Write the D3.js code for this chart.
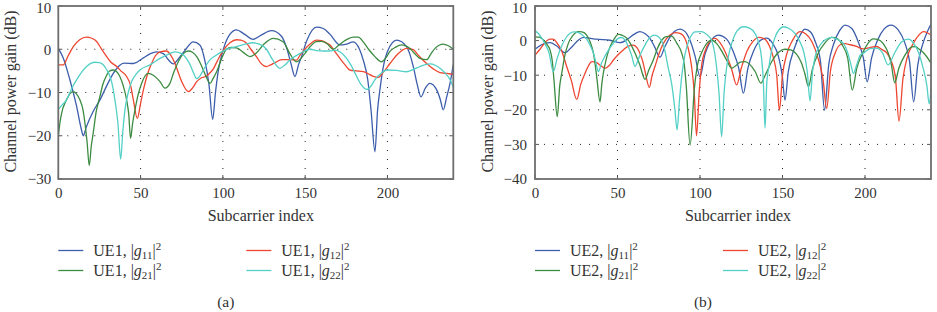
<!DOCTYPE html>
<html>
<head>
<meta charset="utf-8">
<script src="https://cdn.jsdelivr.net/npm/d3@7"></script>
<style>
  html, body { margin: 0; padding: 0; background: #fff; }
  svg, svg text { font-family: "Liberation Serif", "Times New Roman", "DejaVu Serif", serif; }
</style>
</head>
<body>
<div id="chart"></div>
<script>
// Axis ticks
const subcarrierTicks = [0, 50, 100, 150, 200];
const gainTicksA = [-30, -20, -10, 0, 10];
const gainTicksB = [-40, -30, -20, -10, 0, 10];

// Panel (a): UE1 channel gains [subcarrier, dB]
const ue1_g11 = [[0,0.2],[3,-2],[7,-7],[11,-13],[14,-18.5],[15.2,-20],[17,-18],[21,-14.5],[25.3,-11.7],[30,-8],[33.4,-5.6],[37,-3.8],[40,-3.2],[45.6,-3.3],[51.7,-2.0],[56,-1],[59.7,-0.6],[63.8,-1.0],[67,-2.5],[69.9,-3.4],[73,-2.2],[76.9,-0.3],[82,1.7],[86,1],[89,-2.5],[91.5,-8],[93.8,-16.2],[95.5,-10],[97.2,-5],[100.3,0],[104,3.3],[108.3,4.5],[113,3.5],[118.4,2.3],[123,3.2],[129.5,4.3],[135.6,3],[139,0],[141.5,-3.5],[143.8,-6.3],[146,-3.5],[147.8,-1.7],[151,2],[156.9,5.1],[161,4.8],[165,3.5],[171.1,1],[175,1.2],[179.2,1.7],[183,0],[185.3,-2.5],[188,-7],[190,-14],[192.4,-23.7],[194,-14],[195.4,-9.4],[197.5,-4],[200,-0.5],[205.6,2.1],[211.6,0.6],[215.7,-4],[218,-8],[220.4,-11],[223,-9],[225.8,-7.9],[229.9,-9.4],[232,-11.5],[233.9,-14],[236,-11],[238,-7.9],[240,-3.5]];
const ue1_g12 = [[0,-3.6],[3,-3.6],[6,-1.5],[9.1,0.6],[13,2.2],[17.2,2.8],[20,2.6],[23.3,1.8],[26,0.2],[29.4,-1.7],[32,-3],[35.5,-4],[38,-5],[41.5,-6.3],[44,-8.5],[45.6,-11.7],[48,-16],[50,-12.5],[51.7,-9.4],[54,-6],[56.7,-3.3],[59,-1.5],[61.8,-0.6],[65.8,-0.4],[68,-1.2],[70.9,-3.3],[73,-5.5],[75,-7.5],[79,-9.8],[81.5,-9],[84.1,-7.5],[87,-6.6],[90.1,-6.2],[92,-5.5],[94.1,-4.6],[96.5,-2.8],[99.2,-0.9],[104.3,1.5],[108.3,2.2],[111,2.1],[114.4,1.4],[117,0],[120.4,-1.7],[123,-3.2],[126.5,-4],[129,-3.6],[132.6,-2.9],[136,-2.4],[140.7,-2.4],[144.7,-2.5],[147,-1.3],[149.8,0],[153,1.2],[156.9,2.1],[160,2.0],[163,1.4],[165.1,1],[168,-0.5],[171.1,-2.1],[174,-3.5],[177.2,-4.8],[181,-5],[185.3,-5.2],[188,-5.6],[191,-6.2],[194.4,-6.5],[197.5,-5.3],[201.5,-3.3],[206,-1.2],[211.6,0.2],[215.7,-0.1],[219,-1.5],[223.8,-3.3],[228,-4.6],[231.9,-5.4],[236,-5.6],[240,-5.8]];
const ue1_g21 = [[0,-20.2],[1,-17],[2,-14.8],[5,-11.7],[7,-10.3],[9.1,-9.8],[11,-10.3],[13.1,-11.7],[15,-14],[16.2,-17.1],[17.5,-21.5],[18.8,-26.9],[20,-22.5],[21.2,-19.4],[23,-14.5],[25.3,-10.9],[27,-8.2],[29.4,-6],[31,-5.1],[33.4,-4.8],[35.5,-5.2],[37.4,-6.3],[39.5,-8.5],[41.5,-11.7],[42.8,-15],[43.9,-20.6],[45.2,-17],[46.6,-14],[48.5,-10.5],[50.6,-7.9],[52.5,-6.3],[54.7,-5.6],[57.7,-6],[61.8,-7.5],[64.8,-9],[67.8,-7.9],[70,-5.5],[72.9,-2.9],[76,-1],[79,-0.4],[81.5,-0.7],[84.1,-1.7],[86,-3],[88.1,-4.8],[90,-6.5],[92.2,-7.9],[94,-6.8],[96.2,-5.2],[99,-2.4],[102.2,0],[105,0.4],[108.3,0.3],[112,-0.6],[116.4,-1.7],[120,-1.0],[125,1.2],[130.6,2.5],[136.6,1.75],[140.7,-1],[144.7,-2.9],[149.8,-1],[153,0.6],[156.9,1.75],[160,1.8],[163,1.4],[167.1,0],[170,0.8],[173.1,1.75],[176,2.4],[179.2,2.8],[182.3,2.8],[185.3,1.7],[188.5,0],[192.4,-1.7],[196.4,-2.9],[199,-2],[201.5,-0.5],[205,0.5],[208.6,1],[211,0.8],[213.7,0.2],[216.5,-1],[219.7,-2.1],[223.8,-2.4],[226.5,-1],[228.9,0.2],[233.9,1.2],[237,0.8],[240,0]];
const ue1_g22 = [[0,-13.9],[2.5,-12.8],[5,-11.7],[8,-9.2],[11.1,-7.1],[14,-5.4],[17.2,-4],[20,-3.2],[22.3,-3.0],[25,-3.1],[27.3,-3.6],[29.5,-4.8],[31.4,-6.3],[33,-8.5],[34.4,-11.7],[36.2,-17],[37.9,-25.4],[39.2,-19],[40.5,-14],[42.5,-10],[44.5,-7.5],[47,-5.9],[49.6,-4.8],[55.7,-3.6],[61.8,-2.1],[67.8,-1.0],[70.9,-0.6],[75,-1],[78,-2.2],[80,-3.5],[82,-5.3],[84.1,-6.8],[86,-6.2],[88.1,-4.8],[92,-2.5],[95,-1.6],[99.2,-0.6],[103,0.1],[108.3,0.6],[113,1.1],[118.4,1.5],[122,1.2],[126.5,0],[130,-2.3],[134.6,-4.4],[137.5,-3.7],[140.7,-2.5],[146.8,-1.0],[152.9,0],[157,-0.3],[161,-0.4],[165,-0.4],[168.1,-0.2],[171.5,-0.7],[175.2,-2.1],[178,-3.8],[181.3,-6.3],[184,-8.2],[187.4,-9.3],[190,-8.5],[192.4,-7],[196,-5.6],[199.5,-4.8],[205.6,-4.9],[211.6,-5.2],[215.5,-4.7],[219.7,-4],[225.8,-3.4],[229,-3.7],[231.9,-4.4],[235,-5.5],[238,-7],[240,-8.8]];

// Panel (b): UE2 channel gains [subcarrier, dB]
const ue2_g11 = [[0,-2.5],[4,-1.2],[9.1,-0.6],[13,-1.5],[18.2,-3.5],[22,-2],[26,0],[29.3,0.95],[33,0.7],[37.4,0.4],[45.5,0.1],[51.5,-0.6],[56.6,0.6],[60,1.8],[63.6,2.6],[67,1.9],[69.7,0.6],[72.5,-1.8],[75.8,-4.8],[78.5,-2],[81.8,1],[84.5,2.6],[87.9,3.3],[91,2.6],[94,0],[97,-4.5],[100,-10.4],[103,-4],[106,-0.5],[111.1,1.6],[116,0.5],[120,-3],[123.5,-8],[126.3,-15.2],[129,-8],[132.5,-3],[136.5,0],[140.4,0.7],[144,-0.8],[147.5,-4.5],[149.8,-10],[151.5,-17.2],[153.5,-9],[157,-2.5],[160.6,1.5],[163.6,3.3],[167,2.5],[170,-0.5],[173,-6],[175.5,-20.1],[178,-7],[181,-1],[184.5,2.8],[187.9,4.5],[192,3.5],[196,-0.5],[199,-5],[201.3,-11.9],[204,-5],[207.5,0],[211.5,3.3],[215.7,4.5],[220,3.2],[224,-0.5],[227,-6],[229.5,-17.7],[232,-7],[235,-1],[238,2.8],[240,4.8]];
const ue2_g12 = [[0,-4.2],[3,-2.5],[6,-0.6],[9.1,0.4],[11,0.4],[13.5,-0.8],[16,-2.8],[19.2,-7.5],[22,-11.5],[25.3,-17],[27.8,-12.5],[30.3,-9.5],[32.5,-7.2],[34.3,-6.1],[37,-6.3],[39.4,-7.1],[42.4,-8.0],[45,-7.2],[47.5,-5.6],[50.5,-4],[53.5,-2.7],[56.5,-1.6],[59.6,-1.3],[62,-2.2],[63.6,-3.7],[65.3,-6],[66.7,-8.9],[69.3,-13.5],[71,-10],[72.7,-7.5],[75,-4],[77.8,-0.8],[81.8,1.6],[85,2.3],[87.9,2.1],[90.9,0.6],[93,-2.5],[94.9,-7.5],[96.5,-15],[97.9,-27.5],[99.5,-15],[100.9,-7.5],[103.5,-2.5],[106.9,0.2],[109.1,0.65],[112,-0.5],[115.5,-3.5],[119,-8],[122.2,-12.8],[125,-8],[128.5,-3],[132,-0.3],[135.4,0.95],[139,0.5],[142,-1.5],[144.5,-5],[146.5,-10],[148.1,-20.1],[150,-10],[152.5,-4],[156,0],[160.6,2.6],[164,2],[168,-0.5],[171.5,-5],[174.5,-11],[176.8,-19.6],[179,-9],[182,-3.5],[185,-1.2],[188,-0.9],[191,-1.2],[194.9,-1.7],[199,-2.4],[203,-2],[207.1,-1.7],[210,-2.5],[213.1,-3.5],[216,-6],[218.5,-11],[220.6,-23.3],[223,-11],[225.5,-5],[229.3,-0.8],[232.5,1.5],[235.4,2.6],[238,2.2],[240,1.6]];
const ue2_g21 = [[0,1.1],[2.5,1],[5.1,0.2],[7.5,-1.3],[9.1,-2.7],[10.5,-6],[11.5,-11.4],[13.5,-22],[15,-13],[16.2,-9.5],[18,-4.5],[20.2,-0.8],[23,1.5],[26.3,2.6],[28.5,2.5],[31.3,1.6],[33.5,-0.5],[35.4,-3.6],[36.5,-7],[37.4,-10.4],[39.4,-17.7],[40.5,-12.5],[41.4,-9.5],[43.5,-4.7],[45.5,-1.8],[48,0.5],[50.5,1.8],[53,1.5],[55.6,0.7],[58,-1],[60.6,-3.6],[63.5,-7],[66.7,-11.2],[69,-8.5],[71.7,-5.6],[74,-2.5],[76.8,0.1],[79,1.1],[82.8,1.3],[86,-0.8],[88.9,-3.6],[90.5,-7],[91.7,-13.3],[94,-30.2],[96.7,-13.3],[98.5,-7],[100.9,-3.6],[103.5,-1.2],[107.1,0.1],[110,-0.8],[113,-2.9],[116,-5.5],[119.2,-8],[122,-7.1],[124.5,-6.2],[127.3,-6.1],[130,-6.8],[133.5,-9],[136.9,-12.3],[139.5,-10],[144,-5.6],[148,-3.2],[151.5,-2.5],[155,-2.7],[158.6,-4],[161.5,-6.5],[163.5,-9.5],[165.8,-13.3],[168,-8.5],[171.7,-3.6],[175.5,-0.8],[179.8,0.95],[183,0.6],[186.5,-1.5],[189.5,-5],[192.3,-14.3],[195,-8],[198,-4.2],[201.5,-1],[205,0.5],[208,0.3],[211.1,-0.9],[214,-3.5],[216,-7],[218,-12.2],[220.5,-8],[224.2,-4.2],[228.3,-1.8],[230.3,-1.7],[232.3,-2.3],[236,-3.8],[240,-6.5]];
const ue2_g22 = [[0,2.9],[3,1.5],[6,-0.9],[8.5,-3.5],[11.1,-9],[13.5,-5],[16.5,-1.2],[18.5,0.6],[21.2,2.1],[23.5,2.5],[26.3,2.3],[29,1.5],[31.3,0.4],[33.5,-1.5],[35.4,-3.6],[37,-6.5],[38.4,-9],[40.3,-6.5],[42.4,-4.5],[45,-2.4],[47.5,-0.8],[50,0.5],[52.5,0.9],[54.5,0.2],[56.6,-1.8],[58.7,-4.5],[60.6,-7.5],[62.5,-5.5],[64.6,-3.2],[67,-1],[69.7,1],[72.7,1.6],[75.5,0.8],[78,-1.5],[80.8,-8],[83,-13],[84.8,-20],[86.1,-25.8],[87.6,-17],[89,-10],[90.9,-4],[94,0.8],[97,2.5],[101,2.6],[104,1.8],[106.9,0.2],[108.5,-2.5],[110,-7.5],[111.5,-15],[113.1,-27.8],[114.6,-15],[116.2,-7.5],[118,-2.8],[119.2,-0.8],[122.5,2.8],[126.3,4.0],[130,3.6],[133.3,2.1],[135.5,-0.5],[137.4,-5.4],[138.4,-12],[139.4,-25.3],[140.5,-12],[141.8,-7.5],[143.5,-2.5],[145.5,1],[148,3.2],[150.5,4.0],[154,3.5],[157.6,2.1],[160.5,-0.3],[163,-3.5],[165,-9],[166.7,-17.4],[168.2,-9],[169.7,-4.8],[172.5,-1.5],[175.8,0.2],[179.8,0.95],[183,0.4],[186.9,-0.8],[189.5,-3.5],[191.5,-7],[193,-9.5],[195,-7],[197,-4.3],[199.5,-3.5],[203,-2.3],[207,-2.2],[210.5,-3.5],[214,-7],[218,-3.5],[222,-0.5],[226.2,0.4],[229.5,-0.8],[232.5,-3.5],[235,-7.5],[237.5,-13],[238.9,-18.3],[240,-14]];

const colors = { g11: '#3c5dab', g12: '#ee4630', g21: '#3b8b40', g22: '#52d0c6' };
const serif = '"Liberation Serif", "Times New Roman", "DejaVu Serif", serif';

const width = 937, height = 312;
const svg = d3.select('#chart').append('svg')
    .attr('width', width)
    .attr('height', height)
    .attr('font-family', serif)
    .attr('viewBox', `0 0 ${width} ${height}`);

const minus = d => d < 0 ? '\u2212' + Math.abs(d) : String(d);

function drawPanel({ left, right, top, bottom, yTicks, ue, series, caption, yLabelX, tickPad }) {
    const x = d3.scaleLinear().domain([0, 240]).range([left, right]);
    const y = d3.scaleLinear().domain([yTicks[0], yTicks[yTicks.length - 1]]).range([bottom, top]);
    const g = svg.append('g');

    // dotted grid
    g.selectAll('line.vgrid').data(subcarrierTicks.slice(1))
        .join('line').attr('class', 'vgrid')
        .attr('x1', d => x(d)).attr('x2', d => x(d))
        .attr('y1', top).attr('y2', bottom)
        .attr('stroke', '#222').attr('stroke-width', 1)
        .attr('stroke-dasharray', '1,8');
    g.selectAll('line.hgrid').data(yTicks.slice(1, -1))
        .join('line').attr('class', 'hgrid')
        .attr('x1', left).attr('x2', right)
        .attr('y1', d => y(d)).attr('y2', d => y(d))
        .attr('stroke', '#222').attr('stroke-width', 1)
        .attr('stroke-dasharray', '1,8');

    // curves
    const line = d3.line()
        .x(d => x(d[0]))
        .y(d => y(d[1]))
        .curve(d3.curveMonotoneX);
    const clipId = 'clip-' + ue;
    g.append('clipPath').attr('id', clipId)
        .append('rect').attr('x', left).attr('y', top)
        .attr('width', right - left).attr('height', bottom - top);
    g.append('g').attr('clip-path', `url(#${clipId})`)
        .selectAll('path').data(series)
        .join('path')
        .attr('d', d => line(d.values))
        .attr('fill', 'none')
        .attr('stroke', d => colors[d.key])
        .attr('stroke-width', 1.3);

    // inward ticks
    subcarrierTicks.forEach(t => {
        g.append('line').attr('x1', x(t)).attr('x2', x(t)).attr('y1', bottom).attr('y2', bottom - 4).attr('stroke', '#555');
        g.append('line').attr('x1', x(t)).attr('x2', x(t)).attr('y1', top).attr('y2', top + 4).attr('stroke', '#555');
    });
    yTicks.forEach(t => {
        g.append('line').attr('x1', left).attr('x2', left + 4).attr('y1', y(t)).attr('y2', y(t)).attr('stroke', '#555');
        g.append('line').attr('x1', right).attr('x2', right - 4).attr('y1', y(t)).attr('y2', y(t)).attr('stroke', '#555');
    });

    // frame
    g.append('rect')
        .attr('x', left).attr('y', top)
        .attr('width', right - left).attr('height', bottom - top)
        .attr('fill', 'none').attr('stroke', '#6e6e6e').attr('stroke-width', 1.8);

    // axes (labels only)
    const xAxis = g.append('g').attr('transform', `translate(0,${bottom})`)
        .call(d3.axisBottom(x).tickValues(subcarrierTicks).tickSize(0).tickPadding(8.5));
    const yAxis = g.append('g').attr('transform', `translate(${left},0)`)
        .call(d3.axisLeft(y).tickValues(yTicks).tickFormat(minus).tickSize(0).tickPadding(tickPad));
    [xAxis, yAxis].forEach(a => {
        a.attr('font-family', serif);
        a.select('.domain').remove();
        a.selectAll('text')
            .attr('font-family', serif)
            .attr('font-size', 15)
            .attr('fill', '#333');
    });
    // keep the top label inside the page
    yAxis.selectAll('.tick text').filter(d => d === yTicks[yTicks.length - 1]).attr('dy', '0.42em');

    // axis titles
    g.append('text')
        .attr('x', (left + right) / 2 + 5).attr('y', 221)
        .attr('text-anchor', 'middle')
        .attr('font-size', 16).attr('fill', '#333')
        .text('Subcarrier index');
    g.append('text')
        .attr('transform', `translate(${yLabelX},${(top + bottom) / 2 - 1}) rotate(-90)`)
        .attr('text-anchor', 'middle')
        .attr('dy', '0.35em')
        .attr('font-size', 16).attr('fill', '#333')
        .text('Channel power gain (dB)');

    // legend
    const legendPos = [[0, 0], [1, 0], [0, 1], [1, 1]];
    series.forEach((s, i) => {
        const [col, row] = legendPos[i];
        const lx = left + col * 188;
        const ly = 250.5 + row * 20;
        g.append('line')
            .attr('x1', lx).attr('x2', lx + 25)
            .attr('y1', ly).attr('y2', ly)
            .attr('stroke', colors[s.key]).attr('stroke-width', 1.3);
        const t = g.append('text')
            .attr('x', lx + 35).attr('y', ly + 5)
            .attr('font-size', 16).attr('fill', '#333');
        t.append('tspan').text(ue + ', |');
        t.append('tspan').attr('font-style', 'italic').text('g');
        t.append('tspan').attr('font-size', 11).attr('dy', 3.5).text(s.key.slice(1));
        t.append('tspan').attr('dy', -3.5).text('|');
        t.append('tspan').attr('font-size', 11).attr('dy', -6).text('2');
    });

    g.append('text')
        .attr('x', (left + right) / 2 - 30).attr('y', 307)
        .attr('text-anchor', 'middle')
        .attr('font-size', 15.5).attr('fill', '#333')
        .text(caption);
}

drawPanel({
    left: 58.3, right: 453.3, top: 6, bottom: 179,
    yTicks: gainTicksA, ue: 'UE1', caption: '(a)', yLabelX: 10, tickPad: 7,
    series: [
        { key: 'g11', values: ue1_g11 },
        { key: 'g12', values: ue1_g12 },
        { key: 'g21', values: ue1_g21 },
        { key: 'g22', values: ue1_g22 }
    ]
});

drawPanel({
    left: 535, right: 931, top: 6, bottom: 179,
    yTicks: gainTicksB, ue: 'UE2', caption: '(b)', yLabelX: 487, tickPad: 8,
    series: [
        { key: 'g11', values: ue2_g11 },
        { key: 'g12', values: ue2_g12 },
        { key: 'g21', values: ue2_g21 },
        { key: 'g22', values: ue2_g22 }
    ]
});
</script>
</body>
</html>
